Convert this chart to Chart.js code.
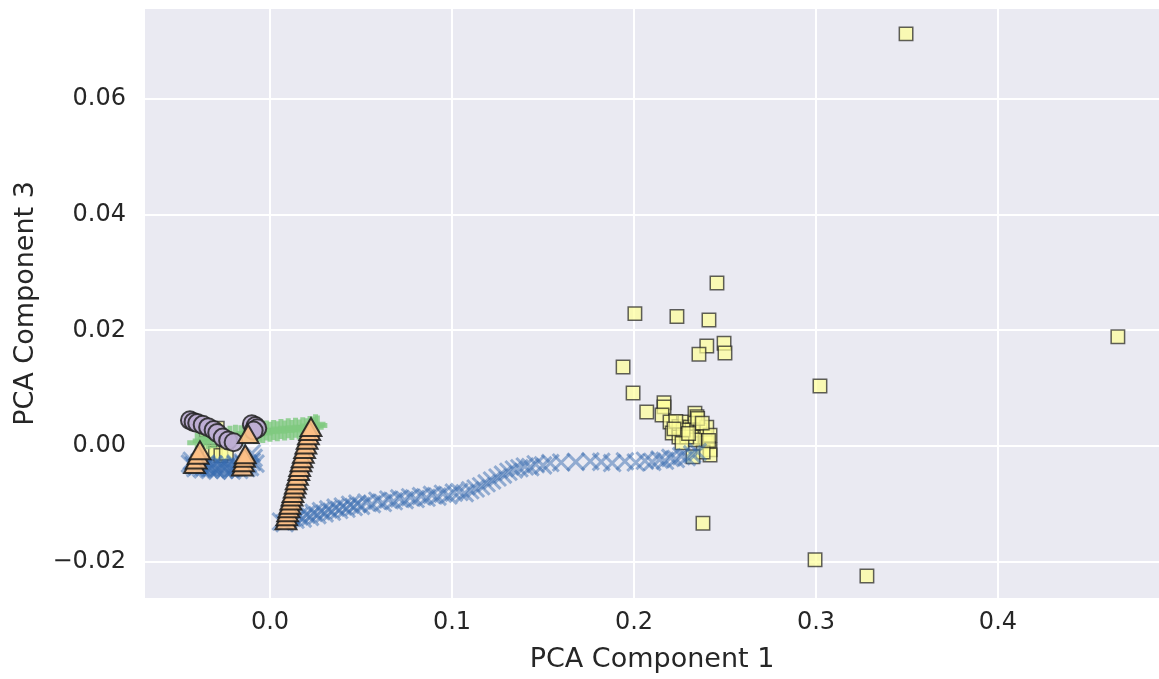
<!DOCTYPE html>
<html>
<head>
<meta charset="utf-8">
<script src="https://cdn.jsdelivr.net/npm/chart.js@4.4.1/dist/chart.umd.min.js"></script>
<style>
  html, body { margin: 0; padding: 0; background: #fff; overflow: hidden; }
  #wrap { width: 1159px; height: 679px; position: relative; overflow: hidden; }
  #pca { display: block; }
</style>
</head>
<body>
<div id="wrap"><canvas id="pca"></canvas></div>
<script>
// tick values
const xTicks = [0.0, 0.1, 0.2, 0.3, 0.4];
const yTicks = [-0.02, 0.00, 0.02, 0.04, 0.06];

// cluster points [PC1, PC3]
const bluePts = [
  [-0.044,-0.0030],[-0.042,-0.0033],[-0.040,-0.0035],[-0.038,-0.0037],[-0.036,-0.0036],
  [-0.034,-0.0038],[-0.032,-0.0037],[-0.030,-0.0039],[-0.028,-0.0038],[-0.026,-0.0036],
  [-0.024,-0.0037],[-0.022,-0.0039],[-0.020,-0.0038],[-0.018,-0.0036],[-0.016,-0.0035],
  [-0.014,-0.0033],[-0.012,-0.0030],[-0.010,-0.0027],[-0.009,-0.0020],[-0.010,-0.0012],
  [-0.043,-0.0025],[-0.039,-0.0028],[-0.035,-0.0030],[-0.031,-0.0031],[-0.027,-0.0032],
  [-0.023,-0.0031],[-0.019,-0.0030],[-0.015,-0.0028],[-0.013,-0.0038],[-0.017,-0.0041],
  [-0.021,-0.0042],[-0.025,-0.0041],[-0.029,-0.0042],[-0.033,-0.0041],[-0.037,-0.0040],
  [-0.041,-0.0038],[-0.011,-0.0036],[-0.008,-0.0030],
  [0.006,-0.0130],[0.008,-0.0133],
  [0.010,-0.0128],[0.012,-0.0124],[0.014,-0.0127],[0.016,-0.0121],[0.018,-0.0125],
  [0.020,-0.0118],[0.022,-0.0122],[0.024,-0.0115],[0.026,-0.0119],[0.028,-0.0112],
  [0.030,-0.0116],[0.032,-0.0109],[0.034,-0.0113],[0.036,-0.0106],[0.038,-0.0110],
  [0.040,-0.0104],[0.042,-0.0108],[0.044,-0.0101],[0.046,-0.0105],[0.048,-0.0099],
  [0.050,-0.0103],[0.053,-0.0097],[0.056,-0.0100],[0.059,-0.0094],[0.062,-0.0098],
  [0.065,-0.0092],[0.068,-0.0095],[0.071,-0.0090],[0.074,-0.0093],[0.077,-0.0088],
  [0.080,-0.0091],[0.083,-0.0086],[0.086,-0.0089],[0.089,-0.0084],[0.092,-0.0087],
  [0.095,-0.0082],[0.098,-0.0085],[0.101,-0.0080],[0.104,-0.0079],[0.107,-0.0081],
  [0.110,-0.0076],[0.113,-0.0073],[0.116,-0.0069],[0.119,-0.0064],[0.122,-0.0059],
  [0.125,-0.0054],[0.128,-0.0049],[0.131,-0.0044],[0.134,-0.0040],[0.137,-0.0038],
  [0.140,-0.0035],[0.143,-0.0036],[0.146,-0.0031],[0.150,-0.0033],[0.154,-0.0029],
  [0.160,-0.0028],[0.168,-0.0027],[0.176,-0.0026],[0.182,-0.0027],
  [0.188,-0.0029],[0.195,-0.0026],[0.201,-0.0028],[0.206,-0.0025],[0.210,-0.0027],
  [0.214,-0.0023],[0.217,-0.0025],[0.220,-0.0020],[0.223,-0.0022],[0.226,-0.0017],
  [0.229,-0.0019],[0.232,-0.0014],[0.235,-0.0010]
];

const greenPts = [
  [-0.040,0.0006],[-0.037,0.0009],[-0.034,0.0012],[-0.031,0.0014],[-0.028,0.0016],
  [-0.025,0.0015],[-0.022,0.0018],[-0.019,0.0020],[-0.016,0.0019],[-0.013,0.0022],
  [-0.010,0.0024],[-0.008,0.0021],[-0.006,0.0025],[-0.004,0.0023],[-0.002,0.0027],
  [0.000,0.0025],[0.002,0.0028],[0.004,0.0026],[0.006,0.0030],[0.008,0.0027],
  [0.010,0.0031],[0.012,0.0028],[0.014,0.0032],[0.016,0.0029],[0.018,0.0033],
  [0.020,0.0031],[0.022,0.0035],[0.024,0.0033],[0.025,0.0038],[0.026,0.0036]
];

const yellowPts = [
  [-0.033,-0.0008],[-0.030,-0.0012],[-0.027,-0.0016],[-0.024,-0.0012],[-0.035,0.0028],[-0.029,0.0031],
  [0.3495,0.0712],[0.4659,0.0189],[0.3022,0.0104],[0.2995,-0.0196],[0.3280,-0.0224],[0.2379,-0.0133],
  [0.2456,0.0282],[0.2005,0.0229],[0.2236,0.0224],[0.2412,0.0218],[0.2495,0.0178],[0.2400,0.0173],
  [0.2357,0.0159],[0.2500,0.0161],[0.1940,0.0137],[0.1995,0.0092],[0.2070,0.0059],
  [0.2165,0.0075],[0.2165,0.0068],[0.2154,0.0054],[0.2198,0.0042],[0.2210,0.0023],[0.2247,0.0034],
  [0.2247,0.0016],[0.2280,0.0042],[0.2308,0.0033],[0.2335,0.0057],[0.2346,0.0051],[0.2335,0.0040],
  [0.2319,0.0028],[0.2363,0.0028],[0.2363,0.0016],[0.2390,0.0016],[0.2400,0.0006],[0.2418,-0.0006],
  [0.2418,-0.0015],[0.2380,-0.0010],[0.2324,-0.0018],[0.2335,0.0011],[0.2290,0.0016],[0.2264,0.0006],
  [0.2270,0.0028],[0.2400,0.0033],[0.2418,0.0019],[0.2230,0.0043],[0.2350,0.0048],[0.2375,0.0040],
  [0.2410,0.0010],[0.2300,0.0022],[0.2220,0.0030]
];

const purplePts = [
  [-0.044,0.0045],[-0.042,0.0042],[-0.040,0.0040],[-0.037,0.0037],[-0.034,0.0033],
  [-0.031,0.0028],[-0.029,0.0023],[-0.026,0.0015],[-0.023,0.0010],[-0.020,0.0007],
  [-0.010,0.0038],[-0.008,0.0035],[-0.007,0.0031],[-0.009,0.0027]
];

const orangePts = [
  [-0.0415,-0.0036],[-0.0405,-0.0028],[-0.0395,-0.0020],[-0.0385,-0.0012],
  [-0.0152,-0.0040],[-0.0146,-0.0033],[-0.0140,-0.0025],[-0.0136,-0.0019],
  [-0.0120,0.0016],
  [0.0088,-0.0133],[0.0092,-0.0126],[0.0097,-0.0119],[0.0104,-0.0112],[0.0109,-0.0106],
  [0.0115,-0.0099],[0.0121,-0.0092],[0.0126,-0.0086],[0.0133,-0.0078],[0.0139,-0.0071],
  [0.0144,-0.0064],[0.0151,-0.0056],[0.0158,-0.0048],[0.0163,-0.0041],[0.0170,-0.0033],
  [0.0176,-0.0026],[0.0183,-0.0018],[0.0190,-0.0010],[0.0197,-0.0002],[0.0204,0.0006],
  [0.0211,0.0014],[0.0218,0.0021],[0.0225,0.0028]
];

const toXY = pts => pts.map(p => ({x: p[0], y: p[1]}));
const textColor = '#262626';
const fontFamily = '"DejaVu Sans", sans-serif';

// grey panel behind the plot like seaborn darkgrid
const panelBg = {
  id: 'panelBg',
  beforeDraw(chart) {
    const a = chart.chartArea;
    const ctx = chart.ctx;
    ctx.save();
    ctx.fillStyle = '#eaeaf2';
    ctx.fillRect(a.left, a.top, a.right - a.left, a.bottom - a.top);
    ctx.restore();
  }
};

const noPad = scale => {
  scale.paddingLeft = 0; scale.paddingRight = 0;
  scale.paddingTop = 0; scale.paddingBottom = 0;
};

// first dataset is drawn on top
const datasets = [
  {
    label: 'orange', data: toXY(orangePts), pointStyle: 'triangle', pointRadius: 12,
    backgroundColor: 'rgba(253,192,134,0.9)', borderColor: 'rgba(25,25,25,0.85)', borderWidth: 2
  },
  {
    label: 'purple', data: toXY(purplePts), pointStyle: 'circle', pointRadius: 9,
    backgroundColor: 'rgba(190,174,212,0.9)', borderColor: 'rgba(35,35,35,0.85)', borderWidth: 2
  },
  {
    label: 'green', data: toXY(greenPts), pointStyle: 'cross', pointRadius: 10,
    backgroundColor: 'rgba(127,201,127,0.8)', borderColor: 'rgba(127,201,127,0.8)', borderWidth: 5
  },
  {
    label: 'blue', data: toXY(bluePts), pointStyle: 'crossRot', pointRadius: 12,
    backgroundColor: 'rgba(56,108,176,0.5)', borderColor: 'rgba(56,108,176,0.5)', borderWidth: 3
  },
  {
    label: 'yellow', data: toXY(yellowPts), pointStyle: 'rect', pointRadius: 9.5,
    backgroundColor: 'rgba(255,255,153,0.7)', borderColor: 'rgba(30,30,30,0.7)', borderWidth: 1.5
  }
];

new Chart(document.getElementById('pca'), {
  type: 'scatter',
  data: { datasets: datasets },
  plugins: [panelBg],
  options: {
    responsive: true,
    maintainAspectRatio: false,
    animation: false,
    layout: { autoPadding: false, padding: { top: 9, right: 0, bottom: 0, left: 0 } },
    plugins: { legend: { display: false }, tooltip: { enabled: false } },
    scales: {
      x: {
        type: 'linear',
        min: -0.0687,
        max: 0.4885,
        afterBuildTicks: axis => { axis.ticks = xTicks.map(v => ({ value: v })); },
        afterFit: scale => { scale.height = 81; noPad(scale); },
        grid: { color: '#ffffff', lineWidth: 2, drawTicks: false },
        border: { display: false },
        ticks: {
          padding: 10,
          color: textColor,
          font: { family: fontFamily, size: 24 },
          callback: v => v.toFixed(1)
        },
        title: {
          display: true, text: 'PCA Component 1', color: textColor,
          font: { family: fontFamily, size: 27 },
          padding: { top: 0, bottom: 3 }
        }
      },
      y: {
        type: 'linear',
        min: -0.0262,
        max: 0.0755,
        afterBuildTicks: axis => { axis.ticks = yTicks.map(v => ({ value: v })); },
        afterFit: scale => { scale.width = 145; noPad(scale); },
        grid: { color: '#ffffff', lineWidth: 2, drawTicks: false },
        border: { display: false },
        ticks: {
          padding: 19,
          color: textColor,
          font: { family: fontFamily, size: 24 },
          callback: v => (v < 0 ? '\u2212' : '') + Math.abs(v).toFixed(2)
        },
        title: {
          display: true, text: 'PCA Component 3', color: textColor,
          font: { family: fontFamily, size: 27 },
          padding: { top: 10, bottom: 0 }
        }
      }
    }
  }
});
</script>
</body>
</html>
